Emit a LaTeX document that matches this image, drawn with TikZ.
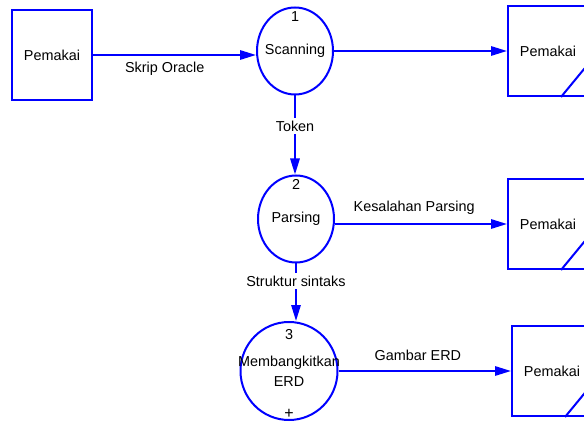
\documentclass[tikz,border=0pt]{standalone}
\usepackage{fontspec}
\setmainfont{Liberation Sans}
\usetikzlibrary{arrows.meta, positioning, shapes.geometric, calc}

\begin{document}
\begin{tikzpicture}[x=0.75pt, y=0.75pt, line width=1.5pt,
  font=\fontsize{10.8}{13}\selectfont,
  entity/.style={draw=blue, rectangle, minimum width=60pt, minimum height=67.5pt, inner sep=0pt},
  process/.style={draw=blue, ellipse, inner sep=0pt, minimum width=57pt, minimum height=65.25pt},
  flow/.style={draw=blue, -{Triangle[length=12pt,width=7pt]}},
  num/.style={anchor=north, inner sep=1pt}]
\clip (0,0) rectangle (584,421);
% Entities
\node[entity] (user) at (52,366) {Pemakai};
\node[entity] (out1) at (548,370) {Pemakai};
\node[entity] (out2) at (548,197) {Pemakai};
\node[entity] (out3) at (552,50) {Pemakai};
% Processes
\node[process, label={center:Scanning}, label={[num, yshift=-2pt]north:1}] (scan) at (295,370) {};
\node[process, label={center:Parsing}, label={[num, yshift=-2.25pt]north:2}] (parse) at (296,202) {};
\node[process, minimum width=72.75pt, minimum height=73.5pt,
  label={[align=center, font=\fontsize{10.8}{15}\selectfont]center:Membangkitkan\\ERD},
  label={[num, yshift=-4.25pt]north:3},
  label={[anchor=south, inner sep=0pt, yshift=1.5pt, font=\fontsize{12}{12}\selectfont]south:+}] (erd) at (289,50) {};
% Store marks
\foreach \s in {out1, out2, out3}
  \draw[blue] ($(\s.south east)+(-28,0)$) -- ($(\s.south east)+(0,34)$);
% Flows
\draw[flow] (user.east) -- (user.east -| scan.west) node[pos=0.44, below=1pt] {Skrip Oracle};
\draw[flow] (scan.east) -- (out1.west);
\draw[flow] (scan.south) -- (scan.south |- parse.north) node[pos=0.39, fill=white, inner sep=2pt] {Token};
\draw[flow] (parse.east |- out2.west) -- (out2.west) node[pos=0.46, above=3pt] {Kesalahan Parsing};
\draw[flow] (parse.south) -- (parse.south |- erd.north) node[pos=0.31, fill=white, inner sep=2pt] {Struktur sintaks};
\draw[flow] (erd.east) -- (out3.west) node[pos=0.46, above=4pt] {Gambar ERD};
\end{tikzpicture}
\end{document}
